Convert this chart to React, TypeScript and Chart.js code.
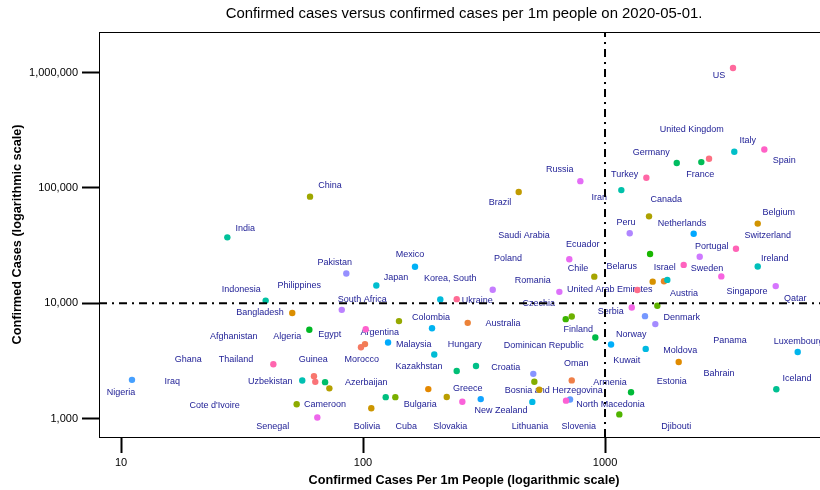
import React, { useEffect, useRef } from "react";
import { Chart, registerables } from "chart.js";

Chart.register(...registerables);

// Countries in alphabetical order (colour = position in this list)
const countries = [
  "Afghanistan", "Algeria", "Argentina", "Armenia", "Australia", "Austria", "Azerbaijan", "Bahrain",
  "Bangladesh", "Belarus", "Belgium", "Bolivia", "Bosnia and Herzegovina", "Brazil", "Bulgaria",
  "Cameroon", "Canada", "Chile", "China", "Colombia", "Cote d'Ivoire", "Croatia", "Cuba", "Czechia",
  "Denmark", "Djibouti", "Dominican Republic", "Ecuador", "Egypt", "Estonia", "Finland", "France",
  "Germany", "Ghana", "Greece", "Guinea", "Hungary", "Iceland", "India", "Indonesia", "Iran", "Iraq",
  "Ireland", "Israel", "Italy", "Japan", "Kazakhstan", "Korea, South", "Kuwait", "Lithuania",
  "Luxembourg", "Malaysia", "Mexico", "Moldova", "Morocco", "Netherlands", "New Zealand", "Nigeria",
  "North Macedonia", "Norway", "Oman", "Pakistan", "Panama", "Peru", "Philippines", "Poland",
  "Portugal", "Qatar", "Romania", "Russia", "Saudi Arabia", "Senegal", "Serbia", "Singapore",
  "Slovakia", "Slovenia", "South Africa", "Spain", "Sweden", "Switzerland", "Thailand", "Turkey",
  "US", "Ukraine", "United Arab Emirates", "United Kingdom", "Uzbekistan",
];

const casesPerMillion = [
  62.7, 98.1, 101.9, 728.6, 270.8, 1753, 186.1, 2016,
  51.0, 1574, 4276, 108.2, 535, 439.9, 221.8,
  72.6, 1520, 903, 60.4, 140.8, 53.2, 510.5, 136, 728.6,
  1645, 1146, 688, 1535, 60, 1281, 912, 2500,
  1979, 69.7, 243.9, 124.1, 293, 5104, 27.5, 39.6, 1168, 56.1,
  4276, 1809, 3422, 113.5, 197, 208.6, 1473, 500.7,
  6256, 192.8, 164, 1059, 126.9, 2325, 306.5, 11.1,
  716.9, 1463, 505.4, 85.3, 1614, 1265, 81.7, 343.6,
  2462, 5075, 647.6, 790.7, 712, 64.75, 1290, 3024,
  257.3, 690, 102.6, 4553, 2114, 3477, 42.6, 1482,
  3380, 243.9, 1360, 2691, 63.5,
];

const confirmedCases = [
  2335, 4154, 4428, 2148, 6766, 15531, 1804, 3100,
  8238, 15400, 49032, 1231, 1781, 92202, 1541,
  1832, 56700, 17008, 83959, 7006, 1333, 2088, 1537, 7682,
  9523, 1089, 7288, 26700, 5895, 1694, 5051, 167300,
  164077, 2074, 2591, 1537, 2863, 1797, 37257, 10551, 95646, 2140,
  20833, 15946, 205463, 14281, 3597, 10780, 4024, 1398,
  3784, 6071, 20739, 4400, 4569, 40000, 1479, 2170,
  1465, 7738, 2447, 18114, 6600, 40459, 8772, 13105,
  25300, 14096, 12567, 114431, 24097, 1024, 9200, 17101,
  1403, 1434, 5951, 215216, 21520, 29705, 2960, 122392,
  1095304, 10861, 13038, 178685, 2086,
];

// Where each country's name sits, in data units (as placed in the reference)
const labelCpm = [
  29.22, 48.67, 117.2, 1049, 378.8, 2120, 103.2, 2958,
  37.53, 1172, 5222, 103.9, 613.8, 368.2, 172.5,
  69.66, 1792, 773.4, 73.05, 191, 24.39, 388.7, 151, 532.1,
  2075, 1971, 558, 809, 72.85, 1886, 775.7, 2476,
  1554, 18.97, 270.8, 62.3, 263.2, 6215, 32.63, 31.42, 947, 16.29,
  5026, 1765, 3888, 136.9, 170.4, 229.5, 1229, 489.8,
  6316, 162, 156.4, 2048, 98.8, 2081, 371.6, 10,
  1054, 1284, 761, 76.4, 3285, 1221, 54.56, 397.4,
  2760, 6115, 502.5, 649.9, 462.8, 42.36, 1056, 3862,
  229.5, 778.6, 99.3, 5508, 2640, 4702, 29.87, 1206,
  2958, 296.7, 1046, 2282, 41.4,
];

const labelCases = [
  5176, 5105, 5529, 2051, 6658, 12210, 2068, 2474,
  8241, 20630, 60610, 852.5, 1763, 73990, 1333,
  1314, 78540, 20110, 103900, 7504, 1306, 2788, 852.5, 9860,
  7459, 852.5, 4291, 32460, 5313, 2092, 5953, 129300,
  203400, 3246, 1820, 3227, 4351, 2208, 44650, 13040, 82860, 2080,
  24350, 20510, 256400, 16570, 2822, 16340, 3162, 852.5,
  4685, 4413, 26210, 3884, 3227, 49340, 1182, 1694,
  1314, 5345, 2979, 22480, 4742, 49940, 14210, 24550,
  31180, 11110, 15600, 142900, 38840, 852.5, 8406, 12530,
  852.5, 852.5, 10830, 173500, 19830, 38530, 3271, 129300,
  933000, 10530, 13220, 317600, 2080,
];

const xTickValues = [10, 100, 1000];
const xTickLabels = ["10", "100", "1000"];
const yTickValues = [1000, 10000, 100000, 1000000];
const yTickLabels = ["1,000", "10,000", "100,000", "1,000,000"];
const xRange = [8.11, 8425];
const yRange = [694, 2244000];
const refCpm = [1000];
const refCases = [10000];

const titleText = "Confirmed cases versus confirmed cases per 1m people on 2020-05-01.";
const xTitle = "Confirmed Cases Per 1m People (logarithmic scale)";
const yTitle = "Confirmed Cases (logarithmic scale)";

const FONT = '"Liberation Sans", Arial, Helvetica, sans-serif';
const LABEL_COLOR = "#1c1c94";

// R-style hcl() -> hex (polar LUV, D65)
function hclHex(h: number, c: number, l: number): string {
  const hr = (h * Math.PI) / 180;
  const U = c * Math.cos(hr);
  const V = c * Math.sin(hr);
  const Xn = 95.047, Yn = 100, Zn = 108.883;
  const Y = l > 7.999592 ? Yn * Math.pow((l + 16) / 116, 3) : (Yn * l) / 903.3;
  const t = Xn + 15 * Yn + 3 * Zn;
  const un = (4 * Xn) / t;
  const vn = (9 * Yn) / t;
  const u = U / (13 * l) + un;
  const v = V / (13 * l) + vn;
  const X = (9 * Y * u) / (4 * v);
  const Z = -X / 3 - 5 * Y + (3 * Y) / v;
  const lin = [
    3.240479 * X - 1.53715 * Y - 0.498535 * Z,
    -0.969256 * X + 1.875992 * Y + 0.041556 * Z,
    0.055648 * X - 0.204043 * Y + 1.057311 * Z,
  ].map((q) => q / 100);
  const g = (q: number) => {
    const s = q <= 0.0031308 ? 12.92 * q : 1.055 * Math.pow(q, 1 / 2.4) - 0.055;
    return Math.round(255 * Math.min(1, Math.max(0, s)));
  };
  return "#" + lin.map((q) => g(q).toString(16).padStart(2, "0")).join("");
}

const pointColors = countries.map((_, i) => hclHex(15 + (360 * i) / countries.length, 100, 65));

const labelPlugin = {
  id: "countryLabels",
  beforeDatasetsDraw(chart: any) {
    const { ctx, scales } = chart;
    const xs = scales.x;
    const ys = scales.y;
    ctx.save();
    ctx.font = `9px ${FONT}`;
    ctx.fillStyle = LABEL_COLOR;
    ctx.textAlign = "center";
    ctx.textBaseline = "middle";
    countries.forEach((name, i) => {
      ctx.fillText(name, xs.getPixelForValue(labelCpm[i]), ys.getPixelForValue(labelCases[i]));
    });
    ctx.restore();
  },
};

const boxPlugin = {
  id: "plotBox",
  afterDraw(chart: any) {
    const { ctx, chartArea } = chart;
    ctx.save();
    ctx.strokeStyle = "#000";
    ctx.lineWidth = 1;
    ctx.strokeRect(
      Math.round(chartArea.left) + 0.5,
      Math.round(chartArea.top) + 0.5,
      Math.round(chartArea.right - chartArea.left),
      Math.round(chartArea.bottom - chartArea.top)
    );
    ctx.restore();
  },
};

export default function App() {
  const canvasRef = useRef<HTMLCanvasElement | null>(null);

  useEffect(() => {
    const canvas = canvasRef.current;
    if (!canvas) return;
    const dashed = {
      showLine: true,
      borderColor: "#000",
      borderWidth: 2,
      borderDash: [8, 5, 2, 5],
      pointRadius: 0,
      pointHoverRadius: 0,
      fill: false,
      order: 0,
    };
    const chart = new Chart(canvas, {
      type: "scatter",
      data: {
        datasets: [
          {
            ...dashed,
            data: [
              { x: refCpm[0], y: yRange[0] },
              { x: refCpm[0], y: yRange[1] },
            ],
          },
          {
            ...dashed,
            data: [
              { x: xRange[0], y: refCases[0] },
              { x: xRange[1], y: refCases[0] },
            ],
          },
          {
            data: countries.map((_, i) => ({ x: casesPerMillion[i], y: confirmedCases[i] })),
            pointBackgroundColor: pointColors,
            pointBorderColor: pointColors,
            pointBorderWidth: 0,
            pointRadius: 3.2,
            order: 1,
          },
        ],
      } as any,
      options: {
        responsive: false,
        animation: false,
        layout: { padding: { left: 0, right: 11, top: 0, bottom: 0 } },
        plugins: {
          legend: { display: false },
          tooltip: { enabled: false },
          title: {
            display: true,
            text: titleText,
            fullSize: false,
            color: "#000",
            font: { family: FONT, size: 14.9, weight: "normal" },
            padding: { top: 4.6, bottom: 9.5 },
          },
        },
        scales: {
          x: {
            type: "logarithmic",
            min: xRange[0],
            max: xRange[1],
            afterBuildTicks: (axis: any) => {
              axis.ticks = xTickValues.map((v) => ({ value: v }));
            },
            afterFit: (axis: any) => {
              axis.height = 53;
            },
            ticks: {
              autoSkip: false,
              maxRotation: 0,
              minRotation: 0,
              padding: 3,
              color: "#000",
              font: { family: FONT, size: 11 },
              callback: (v: any) => {
                const k = xTickValues.indexOf(Number(v));
                return k >= 0 ? xTickLabels[k] : "";
              },
            },
            grid: {
              drawOnChartArea: false,
              drawTicks: true,
              tickLength: 16,
              tickWidth: 2,
              tickColor: "#000",
              color: "#000",
            },
            border: { display: false },
            title: {
              display: true,
              text: xTitle,
              color: "#000",
              font: { family: FONT, size: 12.7, weight: "bold" },
              padding: { top: 0, bottom: 1.4 },
            },
          },
          y: {
            type: "logarithmic",
            min: yRange[0],
            max: yRange[1],
            afterBuildTicks: (axis: any) => {
              axis.ticks = yTickValues.map((v) => ({ value: v }));
            },
            afterFit: (axis: any) => {
              axis.width = 99;
            },
            ticks: {
              autoSkip: false,
              padding: 4,
              color: "#000",
              font: { family: FONT, size: 11 },
              callback: (v: any) => {
                const k = yTickValues.indexOf(Number(v));
                return k >= 0 ? yTickLabels[k] : "";
              },
            },
            grid: {
              drawOnChartArea: false,
              drawTicks: true,
              tickLength: 17,
              tickWidth: 2,
              tickColor: "#000",
              color: "#000",
            },
            border: { display: false },
            title: {
              display: true,
              text: yTitle,
              color: "#000",
              font: { family: FONT, size: 12.7, weight: "bold" },
              padding: { top: 9.4, bottom: 0 },
            },
          },
        },
      } as any,
      plugins: [labelPlugin, boxPlugin],
    });
    return () => chart.destroy();
  }, []);

  return (
    <div
      style={{
        position: "absolute",
        left: 0,
        top: 0,
        width: 820,
        height: 490,
        overflow: "hidden",
        background: "#fff",
      }}
    >
      <canvas ref={canvasRef} width={840} height={490} style={{ display: "block", width: 840, height: 490 }} />
    </div>
  );
}
